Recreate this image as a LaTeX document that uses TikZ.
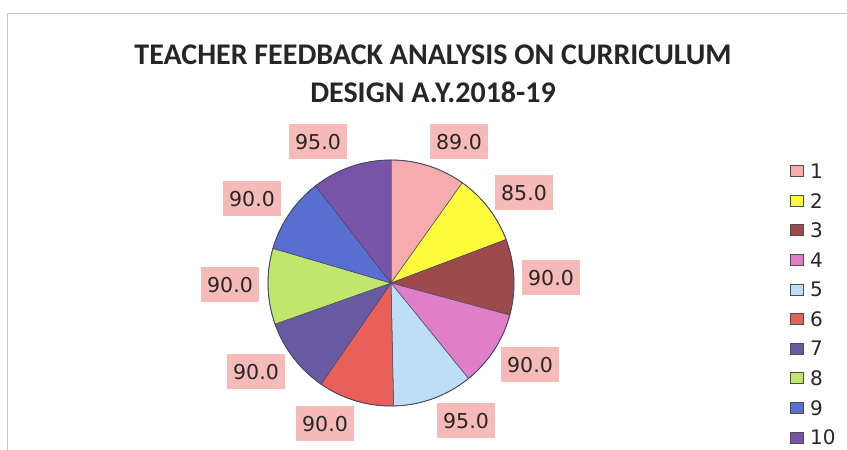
\documentclass[tikz,border=0pt]{standalone}
\usepackage{fontspec}
\setmainfont{DejaVu Sans}
\newfontfamily\titlefont{Carlito}
\newfontfamily\numfont{DejaVu Sans}
\definecolor{c1}{RGB}{246,172,172}
\definecolor{c2}{RGB}{252,252,60}
\definecolor{c3}{RGB}{158,74,74}
\definecolor{c4}{RGB}{224,126,200}
\definecolor{c5}{RGB}{190,222,245}
\definecolor{c6}{RGB}{232,96,88}
\definecolor{c7}{RGB}{104,90,160}
\definecolor{c8}{RGB}{192,230,108}
\definecolor{c9}{RGB}{88,110,208}
\definecolor{c10}{RGB}{120,84,168}
\definecolor{lblfill}{RGB}{246,186,184}
\definecolor{frame}{RGB}{200,200,200}
\definecolor{edge}{RGB}{70,70,100}
\tikzset{
  lbl/.style={fill=lblfill, inner sep=0pt, minimum width=58pt, minimum height=35pt,
    font=\numfont\fontsize{20.5}{20.5}\selectfont, text=black!85},
  legbox/.style={draw=black!70, line width=0.7pt, minimum width=13pt, minimum height=11pt, inner sep=0pt},
  legtxt/.style={anchor=west, inner sep=0pt, font=\numfont\fontsize{20}{20}\selectfont, text=black!85},
  slice/.style={draw=edge, line width=0.5pt},
  ttl/.style={font=\titlefont\bfseries\fontsize{30}{30}\selectfont, text=black!85}
}
\begin{document}
\begin{tikzpicture}[x=1pt,y=1pt]
\useasboundingbox (0,0) rectangle (847,450);
\fill[white] (0,0) rectangle (847,450);
% frame
\draw[frame, line width=0.8pt] (7,-5) -- (7,437) -- (852,437);
% title
\node[ttl] (t1) at (433,395) {TEACHER FEEDBACK ANALYSIS ON CURRICULUM};
\node[ttl] (t2) at (433,358) {DESIGN A.Y.2018-19};
% pie
\coordinate (c) at (391,167);
\foreach \a/\b/\col in {90/54.558/c1, 54.558/20.708/c2, 20.708/-15.133/c3,
  -15.133/-50.974/c4, -50.974/-88.806/c5, -88.806/-124.647/c6,
  -124.647/-160.488/c7, -160.488/-196.329/c8, -196.329/-232.170/c9,
  -232.170/-270/c10}{
  \filldraw[slice, fill=\col] (c) -- ++(\a:123) arc[start angle=\a, end angle=\b, radius=123] -- cycle;
}
\draw[edge, line width=0.8pt] (c) circle[radius=123];
% labels
\node[lbl] (l1) at (459,308) {89.0};
\node[lbl] (l2) at (524,257) {85.0};
\node[lbl] (l3) at (551,172) {90.0};
\node[lbl] (l4) at (530,85) {90.0};
\node[lbl] (l5) at (466,29) {95.0};
\node[lbl] (l6) at (325,26) {90.0};
\node[lbl] (l7) at (256,78) {90.0};
\node[lbl] (l8) at (230,165) {90.0};
\node[lbl] (l9) at (252,251) {90.0};
\node[lbl] (l10) at (318,308) {95.0};
% legend
\foreach \i in {1,...,10}{
  \pgfmathsetmacro{\yy}{279-29.6*(\i-1)}
  \node[legbox, fill=c\i] (s\i) at (797,\yy) {};
  \node[legtxt] (g\i) at (810,\yy) {\i};
}
\end{tikzpicture}
\end{document}
